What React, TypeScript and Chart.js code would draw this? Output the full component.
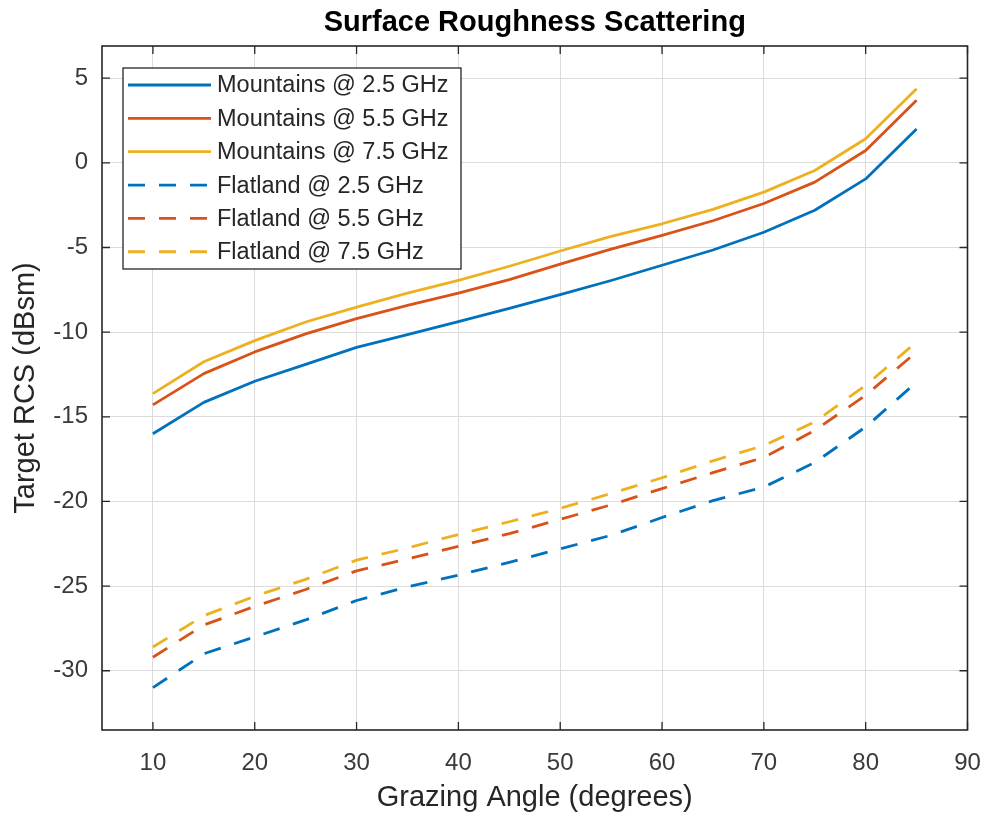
import React, { useEffect, useRef } from "react";
import { Chart, registerables } from "chart.js";

Chart.register(...registerables);

// Grazing angles (degrees)
const angles = [10, 15, 20, 25, 30, 35, 40, 45, 50, 55, 60, 65, 70, 75, 80, 85];

// Target RCS (dBsm)
const mountains25 = [-16.0, -14.15, -12.9, -11.9, -10.9, -10.15, -9.38, -8.6, -7.78, -6.95, -6.05, -5.15, -4.1, -2.8, -0.95, 2.0];
const mountains55 = [-14.3, -12.45, -11.17, -10.1, -9.2, -8.42, -7.7, -6.9, -5.98, -5.1, -4.28, -3.42, -2.4, -1.14, 0.73, 3.7];
const mountains75 = [-13.63, -11.75, -10.5, -9.4, -8.52, -7.7, -6.94, -6.11, -5.21, -4.34, -3.6, -2.75, -1.73, -0.45, 1.42, 4.37];
const flatland25 = [-31.0, -29.0, -28.0, -27.0, -25.85, -25.05, -24.35, -23.6, -22.8, -22.0, -20.95, -19.95, -19.15, -17.7, -15.6, -12.95];
const flatland55 = [-29.2, -27.3, -26.2, -25.2, -24.1, -23.4, -22.65, -21.9, -21.06, -20.2, -19.24, -18.3, -17.4, -15.8, -13.73, -11.17];
const flatland75 = [-28.6, -26.75, -25.6, -24.6, -23.47, -22.75, -21.95, -21.2, -20.41, -19.53, -18.6, -17.6, -16.7, -15.3, -13.14, -10.58];

const xTicks = [10, 20, 30, 40, 50, 60, 70, 80, 90];
const yTicks = [-30, -25, -20, -15, -10, -5, 0, 5];

const seriesLabels = [
  "Mountains @ 2.5 GHz",
  "Mountains @ 5.5 GHz",
  "Mountains @ 7.5 GHz",
  "Flatland @ 2.5 GHz",
  "Flatland @ 5.5 GHz",
  "Flatland @ 7.5 GHz",
];

const TITLE = "Surface Roughness Scattering";
const X_TITLE = "Grazing Angle (degrees)";
const Y_TITLE = "Target RCS (dBsm)";

const BLUE = "#0072BD";
const ORANGE = "#D95319";
const YELLOW = "#EDB120";
const AXIS = "#262626";
const TICK_TEXT = "#3a3a3a";
const FONT = '"Liberation Sans", Arial, Helvetica, sans-serif';
const DASH = [17, 14];

function toPoints(ys: number[]) {
  return angles.map((a, i) => ({ x: a, y: ys[i] }));
}

// Draws the axes box, inward tick marks, title, axis titles and the legend
const decorations = {
  id: "decorations",
  afterDraw(chart: any) {
    const { ctx, chartArea } = chart;
    const { left, right, top, bottom } = chartArea;
    const xs = chart.scales.x;
    const ys = chart.scales.y;
    ctx.save();

    // Tick marks pointing inward on all four sides
    ctx.strokeStyle = AXIS;
    ctx.lineWidth = 1.3;
    const tl = 8;
    ctx.beginPath();
    xTicks.forEach((v) => {
      const px = xs.getPixelForValue(v);
      ctx.moveTo(px, bottom);
      ctx.lineTo(px, bottom - tl);
      ctx.moveTo(px, top);
      ctx.lineTo(px, top + tl);
    });
    yTicks.forEach((v) => {
      const py = ys.getPixelForValue(v);
      ctx.moveTo(left, py);
      ctx.lineTo(left + tl, py);
      ctx.moveTo(right, py);
      ctx.lineTo(right - tl, py);
    });
    ctx.stroke();

    // Axes box
    ctx.lineWidth = 1.6;
    ctx.strokeRect(left, top, right - left, bottom - top);

    // Title
    ctx.fillStyle = "#000";
    ctx.font = `bold 29px ${FONT}`;
    ctx.textAlign = "center";
    ctx.textBaseline = "alphabetic";
    ctx.fillText(TITLE, (left + right) / 2, 31);

    // Axis titles
    ctx.fillStyle = AXIS;
    ctx.font = `29px ${FONT}`;
    ctx.fillText(X_TITLE, (left + right) / 2, 806);
    ctx.save();
    ctx.translate(33.5, (top + bottom) / 2);
    ctx.rotate(-Math.PI / 2);
    ctx.fillText(Y_TITLE, 0, 0);
    ctx.restore();

    // Legend
    const lx = 123, ly = 68, lw = 338, lh = 201;
    ctx.fillStyle = "#fff";
    ctx.fillRect(lx, ly, lw, lh);
    ctx.strokeStyle = AXIS;
    ctx.lineWidth = 1.3;
    ctx.strokeRect(lx, ly, lw, lh);
    ctx.font = `23.5px ${FONT}`;
    ctx.textAlign = "left";
    ctx.textBaseline = "middle";
    chart.data.datasets.forEach((ds: any, i: number) => {
      const cy = 85 + i * 33.35;
      ctx.strokeStyle = ds.borderColor;
      ctx.lineWidth = ds.borderWidth;
      ctx.setLineDash(ds.borderDash || []);
      ctx.lineCap = "butt";
      ctx.beginPath();
      ctx.moveTo(128, cy);
      ctx.lineTo(211, cy);
      ctx.stroke();
      ctx.setLineDash([]);
      ctx.fillStyle = AXIS;
      ctx.fillText(ds.label, 217, cy + 1);
    });

    ctx.restore();
  },
};

export default function App() {
  const canvasRef = useRef<HTMLCanvasElement | null>(null);

  useEffect(() => {
    const canvas = canvasRef.current;
    if (!canvas) return;
    const series = [mountains25, mountains55, mountains75, flatland25, flatland55, flatland75];
    const colors = [BLUE, ORANGE, YELLOW, BLUE, ORANGE, YELLOW];

    const chart = new Chart(canvas, {
      type: "line",
      data: {
        datasets: series.map((ys, i) => ({
          label: seriesLabels[i],
          data: toPoints(ys),
          borderColor: colors[i],
          backgroundColor: colors[i],
          borderWidth: 2.8,
          borderDash: i >= 3 ? DASH : [],
          borderCapStyle: "butt",
          borderJoinStyle: "round",
          pointRadius: 0,
          tension: 0,
          fill: false,
        })),
      },
      options: {
        animation: false,
        responsive: true,
        maintainAspectRatio: false,
        layout: { padding: { top: 46, right: 16.5, left: 0, bottom: 0 } },
        plugins: {
          legend: { display: false },
          title: { display: false },
          tooltip: { enabled: false },
        },
        scales: {
          x: {
            type: "linear",
            min: 5,
            max: 90,
            afterBuildTicks: (s: any) => {
              s.ticks = xTicks.map((v) => ({ value: v }));
            },
            afterFit: (s: any) => {
              s.height = 87;
              s.paddingLeft = 0;
              s.paddingRight = 0;
            },
            grid: { color: "#dcdcdc", lineWidth: 1, drawTicks: false },
            border: { display: false },
            ticks: {
              padding: 19,
              color: TICK_TEXT,
              font: { family: FONT, size: 24 },
              maxRotation: 0,
              autoSkip: false,
            },
          },
          y: {
            type: "linear",
            min: -33.5,
            max: 6.9,
            afterBuildTicks: (s: any) => {
              s.ticks = yTicks.map((v) => ({ value: v }));
            },
            afterFit: (s: any) => {
              s.width = 102;
              s.paddingTop = 0;
              s.paddingBottom = 0;
            },
            grid: { color: "#dcdcdc", lineWidth: 1, drawTicks: false },
            border: { display: false },
            ticks: {
              padding: 14,
              color: TICK_TEXT,
              font: { family: FONT, size: 24 },
              autoSkip: false,
            },
          },
        },
      },
      plugins: [decorations],
    });

    return () => chart.destroy();
  }, []);

  return (
    <div style={{ position: "fixed", left: 0, top: 0, width: 984, height: 817, background: "#fff" }}>
      <canvas ref={canvasRef} />
    </div>
  );
}
